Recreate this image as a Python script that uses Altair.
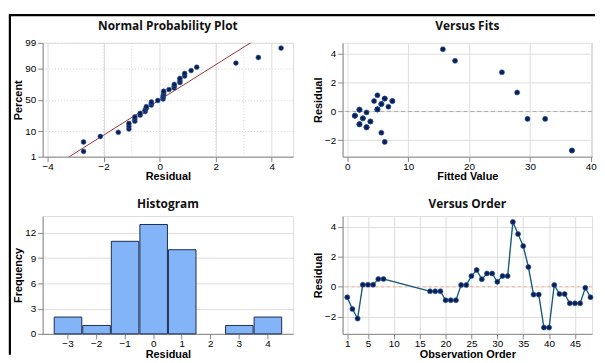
import altair as alt
import pandas as pd
from statistics import NormalDist, mean, stdev

# ---------------- data ----------------
OBS = [1, 2, 3, 4, 5, 6, 7, 8,
       17, 18, 19, 20, 21, 22, 23, 24, 25, 26, 27, 28, 29, 30, 31, 32,
       33, 34, 35, 36, 37, 38, 39, 40, 41, 42, 43, 44, 45, 46, 47, 48]
RESID = [-0.70, -1.48, -2.12, 0.14, 0.14, 0.14, 0.52, 0.52,
         -0.30, -0.30, -0.30, -0.89, -0.89, -0.89, 0.12, 0.12, 0.72, 1.12, 0.51, 0.89, 0.89, 0.33, 0.72, 0.72,
         4.33, 3.52, 2.72, 1.32, -0.52, -0.52, -2.72, -2.72, 0.12, -0.48, -0.48, -1.10, -1.10, -1.10, -0.07, -0.70]
FITS = [3.8, 5.6, 6.15, 4.95, 4.95, 4.95, 5.6, 5.6,
        1.25, 1.25, 1.25, 2.0, 2.0, 2.0, 2.0, 2.0, 4.4, 4.95, 5.6, 6.15, 6.15, 6.75, 7.4, 7.4,
        15.7, 17.7, 25.4, 27.9, 29.6, 32.5, 36.9, 36.9, 2.0, 2.56, 2.56, 3.16, 3.16, 3.16, 3.16, 3.8]

PCT_TICKS = [1, 10, 50, 90, 99]
NPP_X_TICKS = [-4, -2, 0, 2, 4]
NPP_GRID_X = [-2, -1, 2, 3]
FIT_X_TICKS = [0, 10, 20, 30, 40]
RES_Y_TICKS = [-2, 0, 2, 4]
HIST_X_TICKS = [-3, -2, -1, 0, 1, 2, 3, 4]
HIST_Y_TICKS = [0, 3, 6, 9, 12]
ORDER_X_TICKS = [1, 5, 10, 15, 20, 25, 30, 35, 40, 45]

TITLES = ["Normal Probability Plot", "Versus Fits", "Histogram", "Versus Order"]

# ---------------- derived tables ----------------
df = pd.DataFrame({"Obs": OBS, "Residual": RESID, "Fit": FITS})

nd = NormalDist()
n = len(RESID)
srt = sorted(RESID)
npp = pd.DataFrame({
    "Residual": srt,
    "z": [nd.inv_cdf((i + 1 - 0.3) / (n + 0.4)) for i in range(n)],
})
mu, sd = mean(RESID), stdev(RESID)
npp_line = pd.DataFrame({"z": [-2.7, 2.7]})
npp_line["Residual"] = mu + sd * npp_line["z"]
npp_grid_df = pd.DataFrame({"Residual": NPP_GRID_X})

z_ticks = [nd.inv_cdf(p / 100) for p in PCT_TICKS]
label_expr = " : ".join(
    f"datum.value < {(z_ticks[i] + z_ticks[i + 1]) / 2:.4f} ? '{PCT_TICKS[i]}'" for i in range(len(PCT_TICKS) - 1)
) + f" : '{PCT_TICKS[-1]}'"

zero = pd.DataFrame({"Residual": [0]})

# ---------------- styling ----------------
FONT = "Open Sans"
W_L, W_R = 253, 252
H_T, H_B = 115, 119
PT = "#0b1f52"
PT_STROKE = "#2b5aa5"


def title_layer(text, w, dy):
    return alt.Chart(pd.DataFrame({"t": [text]})).mark_text(
        font=FONT, fontSize=12, fontWeight="bold", color="#111", align="center", baseline="alphabetic"
    ).encode(text="t:N", x=alt.value(w / 2), y=alt.value(dy))


def yaxis(title, values, **kw):
    return alt.Axis(title=title, values=values, titleX=-19, titleAngle=-90, titleBaseline="bottom",
                    titleAlign="center", labelOverlap=False, **kw)


def xaxis(title, values, **kw):
    return alt.Axis(title=title, values=values, titleY=14.5, titleBaseline="top", labelOverlap=False,
                    labelPadding=0, **kw)


# ---- Normal probability plot ----
npp_x = alt.X("Residual:Q", scale=alt.Scale(domain=[-4.18, 4.76], nice=False, zero=False),
              axis=xaxis("Residual", NPP_X_TICKS, format="d"))
npp_y = alt.Y("z:Q", scale=alt.Scale(domain=[z_ticks[0], z_ticks[-1]], nice=False, zero=False),
              axis=yaxis("Percent", z_ticks, labelExpr=label_expr, grid=True, gridColor="#d8d0d8",
                         gridDash=[1, 2]))

npp_grid = alt.Chart(npp_grid_df).mark_rule(
    color="#d8d0d8", strokeDash=[1, 2], strokeWidth=1
).encode(x=npp_x)
npp_pts = alt.Chart(npp).mark_point(filled=True, size=24, color=PT, stroke=PT_STROKE, strokeWidth=0.6,
                                    opacity=1).encode(x=npp_x, y=npp_y)
npp_ln = alt.Chart(npp_line).mark_line(color="#9b3535", strokeWidth=1, clip=True).encode(x=npp_x, y=npp_y)

frame_v = alt.Chart(pd.DataFrame({"f": [1]})).mark_rule(color="#000", strokeWidth=2.2).encode(
    x=alt.value(-33.1), y=alt.value(-29.1), y2=alt.value(315))
frame_h = alt.Chart(pd.DataFrame({"f": [1]})).mark_rule(color="#000", strokeWidth=2.2).encode(
    x=alt.value(-33.1), x2=alt.value(558), y=alt.value(-28))

p_npp = alt.layer(npp_grid, npp_ln, npp_pts, title_layer(TITLES[0], W_L, -13.4), frame_v, frame_h
                  ).properties(width=W_L, height=H_T)

# ---- Versus fits ----
fit_x = alt.X("Fit:Q", scale=alt.Scale(domain=[-0.77, 40.2], nice=False, zero=False),
              axis=xaxis("Fitted Value", FIT_X_TICKS))
fit_y = alt.Y("Residual:Q", scale=alt.Scale(domain=[-3.15, 4.77], nice=False, zero=False),
              axis=yaxis("Residual", RES_Y_TICKS))
fit_zero = alt.Chart(zero).mark_rule(color="#a8a8a8", strokeDash=[4, 3], strokeWidth=1).encode(y=fit_y)
fit_pts = alt.Chart(df).mark_point(filled=True, size=26, color=PT, stroke=PT_STROKE, strokeWidth=0.6,
                                   opacity=1).encode(x=fit_x, y=fit_y)
p_fit = alt.layer(fit_zero, fit_pts, title_layer(TITLES[1], W_R, -13.4)).properties(width=W_R, height=H_T)

# ---- Histogram ----
hist = alt.Chart(df).transform_bin(
    "b0", "Residual", bin=alt.Bin(extent=[-3.5, 4.5], step=1, anchor=-3.5, nice=False)
).transform_aggregate(count="count()", groupby=["b0", "b0_end"]).mark_bar(
    color="#82b4f7", stroke="#1c2d4f", strokeWidth=1
).encode(
    x=alt.X("b0:Q", bin="binned", scale=alt.Scale(domain=[-3.87, 4.9], nice=False, zero=False),
            axis=xaxis("Residual", HIST_X_TICKS, format="d")),
    x2="b0_end:Q",
    y=alt.Y("count:Q", scale=alt.Scale(domain=[0, 14], nice=False),
            axis=yaxis("Frequency", HIST_Y_TICKS)),
)
p_hist = alt.layer(hist, title_layer(TITLES[2], W_L, -8.6)).properties(width=W_L, height=H_B)

# ---- Versus order ----
ord_x = alt.X("Obs:Q", scale=alt.Scale(domain=[0.1, 48.3], nice=False, zero=False),
              axis=xaxis("Observation Order", ORDER_X_TICKS))
ord_y = alt.Y("Residual:Q", scale=alt.Scale(domain=[-3.14, 4.72], nice=False, zero=False),
              axis=yaxis("Residual", RES_Y_TICKS))
ord_zero = alt.Chart(zero).mark_rule(color="#f2b090", strokeDash=[3, 3], strokeWidth=1).encode(y=ord_y)
ord_line_bg = alt.Chart(df).mark_line(color="#62bde6", strokeWidth=1.6).encode(x=ord_x, y=ord_y)
ord_line = alt.Chart(df).mark_line(color="#1a2433", strokeWidth=0.8).encode(x=ord_x, y=ord_y)
ord_pts = alt.Chart(df).mark_point(filled=True, size=26, color=PT, stroke=PT_STROKE, strokeWidth=0.6,
                                   opacity=1).encode(x=ord_x, y=ord_y)
p_ord = alt.layer(ord_zero, ord_line_bg, ord_line, ord_pts, title_layer(TITLES[3], W_R, -8.6)
                  ).properties(width=W_R, height=H_B)

top = alt.hconcat(p_npp, p_fit, spacing=50, bounds="flush")
bottom = alt.hconcat(p_hist, p_ord, spacing=50, bounds="flush")
chart = alt.vconcat(top, bottom, spacing=H_T + 60, bounds="flush").properties(
    padding={"left": 0, "top": 2.4, "right": 0, "bottom": 0}
).configure_view(stroke="#c8c8c8", strokeWidth=1).configure_axis(
    labelFont=FONT, labelFontSize=7.5, labelFontWeight="bold", labelColor="#222",
    titleFont=FONT, titleFontSize=11.5, titleFontWeight="bold", titleColor="#111",
    tickColor="#9a9a9a", tickSize=3, labelPadding=1, domain=False, grid=False
).configure(background="white")

chart.save("out.html", embed_options={"renderer": "svg", "actions": False})
